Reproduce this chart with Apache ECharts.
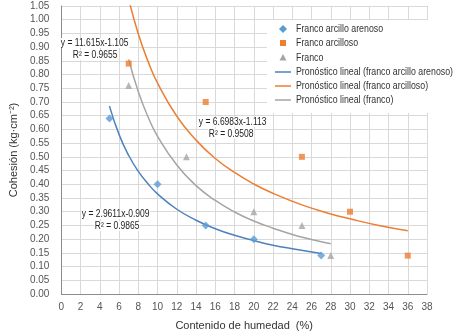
<!DOCTYPE html>
<html>
<head>
<meta charset="utf-8">
<script src="https://cdn.jsdelivr.net/npm/echarts@6/dist/echarts.min.js"></script>
<style>
html,body{margin:0;padding:0;background:#fff;}
#c{width:463px;height:336px;}
</style>
</head>
<body>
<div id="c"></div>
<script>
// Measured points
var arenosoX = [5, 10, 15, 20, 27];
var arenosoY = [0.64, 0.40, 0.25, 0.20, 0.14];
var arcillosoX = [7, 15, 25, 30, 36];
var arcillosoY = [0.84, 0.70, 0.50, 0.30, 0.14];
var francoX = [7, 13, 20, 25, 28];
var francoY = [0.76, 0.50, 0.30, 0.25, 0.14];

// Trend lines
var trendArenosoX = [5, 6, 7, 8, 9, 10, 12, 14, 16, 18, 20, 22, 24, 27];
var trendArenosoY = [0.685, 0.581, 0.505, 0.447, 0.402, 0.365, 0.309, 0.269, 0.238, 0.214, 0.195, 0.178, 0.165, 0.148];
var trendArcillosoX = [7, 8, 9, 10, 12, 14, 16, 18, 20, 22, 25, 28, 30, 33, 36];
var trendArcillosoY = [1.075, 0.948, 0.849, 0.769, 0.648, 0.561, 0.494, 0.443, 0.401, 0.367, 0.325, 0.292, 0.274, 0.250, 0.231];
var trendFrancoX = [7, 8, 9, 10, 12, 14, 16, 18, 20, 22, 24, 26, 28];
var trendFrancoY = [0.855, 0.737, 0.646, 0.575, 0.470, 0.395, 0.341, 0.299, 0.266, 0.240, 0.217, 0.199, 0.183];

var seriesNames = ['Franco arcillo arenoso', 'Franco arcilloso', 'Franco',
  'Pronóstico lineal (franco arcillo arenoso)', 'Pronóstico lineal (franco arcilloso)', 'Pronóstico lineal (franco)'];
var equations = ['y = 11.615x-1.105', 'R² = 0.9655', 'y = 6.6983x-1.113', 'R² = 0.9508', 'y = 2.9611x-0.909', 'R² = 0.9865'];

function zip(xs, ys) { return xs.map(function (x, i) { return [x, ys[i]]; }); }

var FONT = '"Liberation Sans", Arial, sans-serif';
var cBlue = '#5B9BD5', cBlueLine = '#4F81BD', cOrange = '#ED7D31', cGray = '#A5A5A5';

// legend (drawn as graphic so the narrow text can be condensed like the original)
var legendColors = [cBlue, cOrange, cGray, cBlueLine, cOrange, cGray];
var legendEls = [{type: 'rect', z: 100, x: 267, y: 20, shape: {width: 190, height: 93}, style: {fill: '#fff'}}];
var rowY = [29, 43, 57.5, 72, 86, 100];
seriesNames.forEach(function (n, i) {
  var cy = rowY[i], cx = 283, col = legendColors[i], icon;
  if (i === 0) icon = {type: 'polygon', shape: {points: [[cx, cy - 4], [cx + 4, cy], [cx, cy + 4], [cx - 4, cy]]}, style: {fill: col}};
  else if (i === 1) icon = {type: 'rect', shape: {x: cx - 3, y: cy - 3, width: 6, height: 6}, style: {fill: col}};
  else if (i === 2) icon = {type: 'polygon', shape: {points: [[cx, cy - 3.5], [cx + 3.5, cy + 3], [cx - 3.5, cy + 3]]}, style: {fill: col}};
  else icon = {type: 'line', shape: {x1: cx - 8, y1: cy, x2: cx + 8, y2: cy}, style: {stroke: col, lineWidth: 1.5}};
  icon.z = 101;
  legendEls.push(icon);
  legendEls.push({type: 'text', z: 101, x: 296, y: cy, scaleX: 0.8,
    style: {text: n, font: '11px ' + FONT, fill: '#333', verticalAlign: 'middle', align: 'left'}});
});

var eqPos = [[60, 43], [72, 55], [198, 122], [208, 134], [81, 214], [94, 226]];
var eqEls = equations.map(function (t, i) {
  return {type: 'text', z: 100, x: eqPos[i][0], y: eqPos[i][1], scaleX: 0.85,
    style: {text: t, font: '10px ' + FONT, fill: '#222', verticalAlign: 'middle', align: 'left',
      backgroundColor: '#fff', padding: [0, 1]}};
});

var chart = echarts.init(document.getElementById('c'), null, {renderer: 'canvas'});
chart.setOption({
  animation: false,
  backgroundColor: '#fff',
  grid: {left: 56, right: 36, top: 6, bottom: 39},
  xAxis: {
    type: 'value', min: 0, max: 38, interval: 2,
    name: 'Contenido de humedad  (%)', nameLocation: 'middle', nameGap: 26,
    nameTextStyle: {fontFamily: FONT, fontSize: 11, color: '#333'},
    axisLine: {show: true, lineStyle: {color: '#8c8c8c'}},
    axisTick: {show: false},
    axisLabel: {fontFamily: FONT, fontSize: 10, color: '#555', margin: 8},
    splitLine: {show: true, lineStyle: {color: '#d9d9d9'}}
  },
  yAxis: {
    type: 'value', min: 0, max: 1.05, interval: 0.05,
    name: 'Cohesión (kg·cm⁻²)', nameLocation: 'middle', nameGap: 40,
    nameTextStyle: {fontFamily: FONT, fontSize: 11, color: '#333'},
    axisLine: {show: true, lineStyle: {color: '#8c8c8c'}},
    axisTick: {show: false},
    axisLabel: {fontFamily: FONT, fontSize: 10, color: '#555', margin: 12,
      formatter: function (v) { return v.toFixed(2); }},
    splitLine: {show: true, lineStyle: {color: '#d9d9d9'}}
  },
  legend: {show: false, data: seriesNames},
  series: [
    {name: seriesNames[3], type: 'line', data: zip(trendArenosoX, trendArenosoY), smooth: true,
      showSymbol: false, clip: true, itemStyle: {color: cBlueLine}, lineStyle: {color: cBlueLine, width: 1.5}, z: 2},
    {name: seriesNames[4], type: 'line', data: zip(trendArcillosoX, trendArcillosoY), smooth: true,
      showSymbol: false, clip: true, itemStyle: {color: cOrange}, lineStyle: {color: cOrange, width: 1.5}, z: 2},
    {name: seriesNames[5], type: 'line', data: zip(trendFrancoX, trendFrancoY), smooth: true,
      showSymbol: false, clip: true, itemStyle: {color: cGray}, lineStyle: {color: cGray, width: 1.5}, z: 2},
    {name: seriesNames[0], type: 'scatter', data: zip(arenosoX, arenosoY), symbol: 'diamond', symbolSize: 8,
      itemStyle: {color: cBlue}, z: 3},
    {name: seriesNames[1], type: 'scatter', data: zip(arcillosoX, arcillosoY), symbol: 'rect', symbolSize: 6,
      itemStyle: {color: cOrange}, z: 3},
    {name: seriesNames[2], type: 'scatter', data: zip(francoX, francoY), symbol: 'triangle', symbolSize: 7,
      itemStyle: {color: cGray}, z: 3}
  ],
  graphic: eqEls.concat(legendEls)
});
</script>
</body>
</html>
